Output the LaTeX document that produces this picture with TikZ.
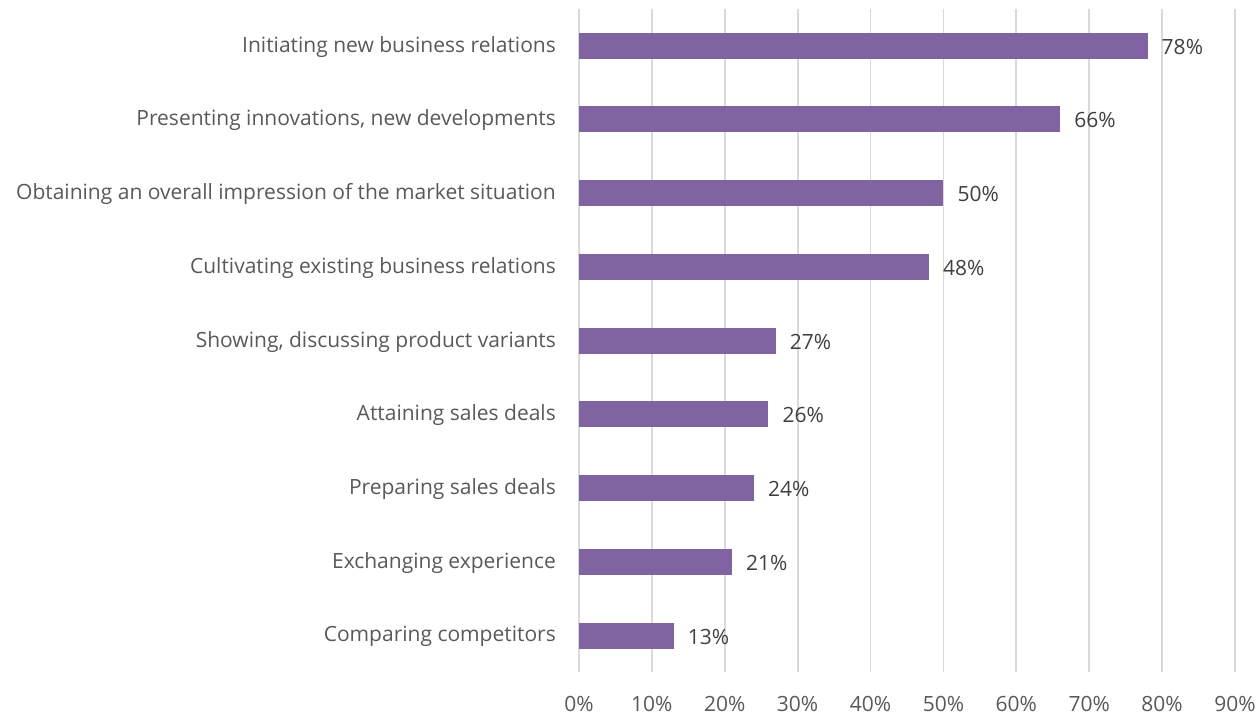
\documentclass[tikz,border=0pt]{standalone}
\usepackage{fontspec}
\setmainfont{Open Sans}
\definecolor{barcol}{HTML}{8064A2}
\definecolor{gridcol}{HTML}{D9D9D9}
\definecolor{labcol}{HTML}{595959}
\definecolor{valcol}{HTML}{404040}
\begin{document}
\begin{tikzpicture}[x=1pt,y=-1pt,
  gridline/.style={draw=gridcol,line width=1.8pt},
  barbox/.style={fill=barcol,draw=none},
  catlabel/.style={anchor=east,text=labcol,font=\fontsize{21}{25}\selectfont,inner sep=0pt},
  vallabel/.style={anchor=west,text=valcol,font=\fontsize{21}{25}\selectfont,inner sep=0pt},
  ticklabel/.style={anchor=center,text=labcol,font=\fontsize{21}{25}\selectfont,inner sep=0pt}]
\useasboundingbox (0,0) rectangle (1258,716);
\def\xz{578.9}
\def\dx{7.29}
% gridlines
\foreach \i/\t in {0/0,1/10,2/20,3/30,4/40,5/50,6/60,7/70,8/80,9/90}{
  \draw[gridline] ({\xz+\i*10*\dx},9) -- ({\xz+\i*10*\dx},672);
  \node[ticklabel] (t\i) at ({\xz+\i*10*\dx},704) {\t\%};
}
% bars
\foreach \n/\v/\lab [count=\k from 0] in {
  1/78/Initiating new business relations,
  2/66/{Presenting innovations, new developments},
  3/50/Obtaining an overall impression of the market situation,
  4/48/Cultivating existing business relations,
  5/27/{Showing, discussing product variants},
  6/26/Attaining sales deals,
  7/24/Preparing sales deals,
  8/21/Exchanging experience,
  9/13/Comparing competitors}{
  \pgfmathsetmacro{\yc}{45.7+\k*73.74}
  \path[barbox] (\xz,\yc-13) rectangle ({\xz+\v*\dx},\yc+13);
  \coordinate (e\n) at ({\xz+\v*\dx},\yc);
  \node[catlabel] (c\n) at (556,\yc+1) {\lab};
  \node[vallabel] (v\n) at ([xshift=14pt,yshift=-1pt]e\n) {\v\%};
}
\end{tikzpicture}
\end{document}
